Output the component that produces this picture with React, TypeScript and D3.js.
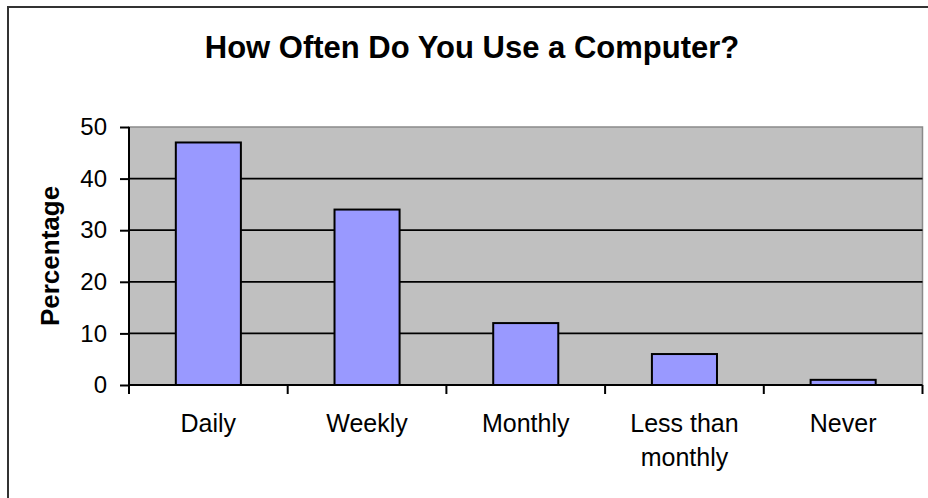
import React, { useRef, useEffect } from "react";
import * as d3 from "d3";

// data
const categories = ["Daily", "Weekly", "Monthly", "Less than monthly", "Never"];
const categoryLines = [["Daily"], ["Weekly"], ["Monthly"], ["Less than", "monthly"], ["Never"]];
const percentages = [47, 34, 12, 6, 1];
const yTicks = [0, 10, 20, 30, 40, 50];

const title = "How Often Do You Use a Computer?";
const yTitle = "Percentage";

const width = 928;
const height = 498;
const plot = { left: 129, right: 922.5, top: 127, bottom: 385 };
const font = "Arial, 'Liberation Sans', sans-serif";

const App = () => {
  const svgRef = useRef<SVGSVGElement>(null);

  useEffect(() => {
    const svg = d3.select(svgRef.current);
    svg.selectAll("*").remove();

    // chart area border (runs off the right and bottom edges)
    svg.append("rect")
      .attr("x", 8).attr("y", 7)
      .attr("width", 960).attr("height", 520)
      .attr("fill", "#fff")
      .attr("stroke", "#333")
      .attr("stroke-width", 2);

    const x = d3.scaleBand<string>()
      .domain(categories)
      .range([plot.left, plot.right])
      .paddingInner(0.59)
      .paddingOuter(0.295);
    const step = x.step();

    const y = d3.scaleLinear().domain([0, 50]).range([plot.bottom, plot.top]);

    // plot area
    svg.append("rect")
      .attr("x", plot.left).attr("y", plot.top)
      .attr("width", plot.right - plot.left)
      .attr("height", plot.bottom - plot.top)
      .attr("fill", "#c0c0c0")
      .attr("stroke", "#8a8a8a")
      .attr("stroke-width", 1.5);

    // gridlines
    svg.append("g")
      .selectAll("line")
      .data(yTicks.filter(d => d > 0 && d < 50))
      .enter()
      .append("line")
      .attr("x1", plot.left).attr("x2", plot.right)
      .attr("y1", d => y(d)).attr("y2", d => y(d))
      .attr("stroke", "#000")
      .attr("stroke-width", 1.8);

    // bars
    svg.append("g")
      .selectAll("rect")
      .data(percentages)
      .enter()
      .append("rect")
      .attr("x", (_, i) => x(categories[i]) as number)
      .attr("y", d => y(d))
      .attr("width", x.bandwidth())
      .attr("height", d => y(0) - y(d))
      .attr("fill", "#9999ff")
      .attr("stroke", "#000")
      .attr("stroke-width", 2);

    // y axis
    const axisY = d3.axisLeft(y).tickValues(yTicks).tickSize(9).tickPadding(13);
    const gy = svg.append("g")
      .attr("transform", `translate(${plot.left},0)`)
      .call(axisY);
    gy.select(".domain").attr("stroke", "#000").attr("stroke-width", 2).attr("d", `M0,${plot.top}V${plot.bottom}`);
    gy.selectAll(".tick line").attr("stroke", "#000").attr("stroke-width", 2);
    gy.selectAll(".tick text")
      .attr("font-family", font)
      .attr("font-size", 24)
      .attr("fill", "#000");

    // x axis: ticks at band boundaries
    const boundaries = d3.range(categories.length + 1).map(i => plot.left + i * step);
    svg.append("line")
      .attr("x1", plot.left).attr("x2", plot.right)
      .attr("y1", plot.bottom).attr("y2", plot.bottom)
      .attr("stroke", "#000").attr("stroke-width", 2);
    svg.append("g")
      .selectAll("line")
      .data(boundaries)
      .enter()
      .append("line")
      .attr("x1", d => d).attr("x2", d => d)
      .attr("y1", plot.bottom).attr("y2", plot.bottom + 9)
      .attr("stroke", "#000").attr("stroke-width", 2);

    // category labels
    const labels = svg.append("g")
      .attr("font-family", font)
      .attr("font-size", 25)
      .attr("text-anchor", "middle")
      .attr("fill", "#000");
    categoryLines.forEach((lines, i) => {
      const t = labels.append("text")
        .attr("x", (x(categories[i]) as number) + x.bandwidth() / 2)
        .attr("y", 432);
      lines.forEach((ln, j) => {
        t.append("tspan")
          .attr("x", (x(categories[i]) as number) + x.bandwidth() / 2)
          .attr("dy", j === 0 ? 0 : 34)
          .text(ln);
      });
    });

    // y title
    svg.append("text")
      .attr("transform", `translate(59,${(plot.top + plot.bottom) / 2}) rotate(-90)`)
      .attr("text-anchor", "middle")
      .attr("font-family", font)
      .attr("font-size", 26)
      .attr("font-weight", "bold")
      .text(yTitle);

    // chart title
    svg.append("text")
      .attr("x", 472)
      .attr("y", 58)
      .attr("text-anchor", "middle")
      .attr("font-family", font)
      .attr("font-size", 31)
      .attr("font-weight", "bold")
      .text(title);
  });

  return (
    <div style={{ position: "absolute", left: 0, top: 0 }}>
      <svg ref={svgRef} width={width} height={height} style={{ display: "block" }}></svg>
    </div>
  );
};

export default App;
